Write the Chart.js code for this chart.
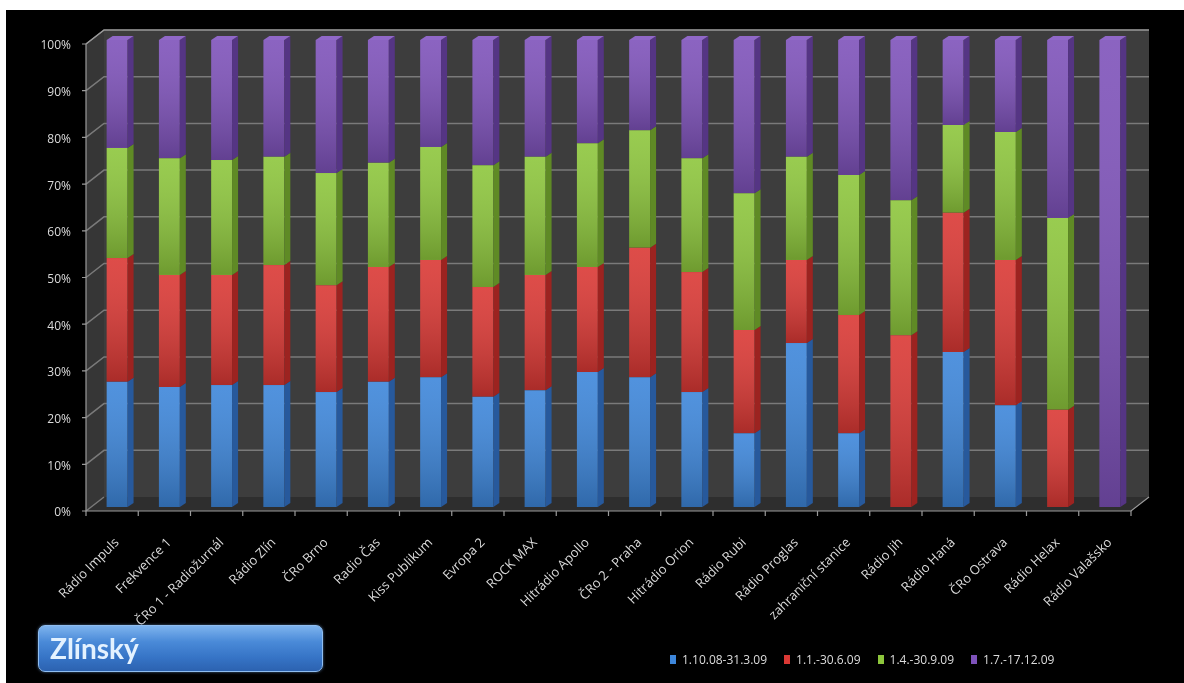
<!DOCTYPE html>
<html>
<head>
<meta charset="utf-8">
<script src="https://cdn.jsdelivr.net/npm/chart.js@4.4.1/dist/chart.umd.min.js"></script>
<style>
html, body { margin: 0; background: #fff; }
#wrap { position: absolute; left: 6px; top: 10px; width: 1178px; height: 673px; background: #000; overflow: hidden; }
#wrap canvas { position: absolute; left: 0; top: 0; }
#title {
    position: absolute; left: 32px; top: 615px; width: 285px; height: 47px;
    border-radius: 7px; border: 1px solid #8fbdf0; box-sizing: border-box;
    background: linear-gradient(to bottom, #7db3ee 0%, #4a8ad8 35%, #3674c6 70%, #2c62b0 100%);
    box-shadow: 0 0 3px rgba(120,170,230,0.6);
    font: bold 28px Lato, "Open Sans", sans-serif; color: #e4f2ff;
    padding-left: 11px; line-height: 44px;
}
#legend { position: absolute; left: 664px; top: 641px; display: flex; gap: 17px; font: 12px "Open Sans", sans-serif; color: #dcdcdc; }
#legend .item { display: flex; align-items: center; }
#legend .box { width: 6px; height: 9px; margin-right: 6px; }
</style>
</head>
<body>
<div id="wrap">
    <canvas id="mainChart" width="1178" height="673"></canvas>
    <div id="title">Zlínský</div>
    <div id="legend"></div>
</div>
<script>
// 1. Данные
const stations = ['Rádio Impuls', 'Frekvence 1', 'ČRo 1 - Radiožurnál', 'Rádio Zlín', 'ČRo Brno', 'Radio Čas',
    'Kiss Publikum', 'Evropa 2', 'ROCK MAX', 'Hitrádio Apollo', 'ČRo 2 - Praha', 'Hitrádio Orion', 'Rádio Rubi',
    'Rádio Proglas', 'zahraniční stanice', 'Rádio Jih', 'Rádio Haná', 'ČRo Ostrava', 'Rádio Helax', 'Rádio Valašsko'];
const periods = ['1.10.08-31.3.09', '1.1.-30.6.09', '1.4.-30.9.09', '1.7.-17.12.09'];
const period1 = [26.8, 25.7, 26.1, 26.1, 24.6, 26.8, 27.8, 23.6, 25.0, 28.9, 27.8, 24.6, 15.8, 35.1, 15.8, 0, 33.2, 21.8, 0, 0];
const period2 = [26.5, 24.0, 23.6, 25.7, 22.9, 24.6, 25.1, 23.5, 24.7, 22.5, 27.7, 25.7, 22.1, 17.8, 25.3, 36.8, 29.8, 31.1, 20.8, 0];
const period3 = [23.6, 25.0, 24.6, 23.2, 24.0, 22.3, 24.2, 26.1, 25.3, 26.5, 25.2, 24.4, 29.3, 22.1, 30.0, 28.9, 18.8, 27.4, 41.1, 0];
const period4 = [23.1, 25.3, 25.7, 25.0, 28.5, 26.3, 22.9, 26.8, 25.0, 22.1, 19.3, 25.3, 32.8, 25.0, 28.9, 34.3, 18.2, 19.7, 38.1, 100];

const frontColors = ['#3d86da', '#da3834', '#8dc63c', '#7e52ba'];
const sideColors = ['#27599c', '#9c2320', '#5f8a25', '#553584'];
const topColors = ['#5a9be2', '#e45a55', '#a3d55a', '#9068c8'];

// 2. Псевдо-3D рамка и грани столбцов
const FX = -5, FY = 4;     // передняя плоскость
const BX = 13, BY = -10;   // задняя стенка
const D = 6, DY = 4;       // глубина столбца

const frame3d = {
    id: 'frame3d',
    beforeDraw(chart) {
        const { ctx, chartArea: a, scales: { y } } = chart;
        const yT = y.getPixelForValue(100), yB = y.getPixelForValue(0);
        ctx.save();
        // левая стенка
        ctx.fillStyle = '#363636';
        ctx.beginPath();
        ctx.moveTo(a.left + FX, yT + FY); ctx.lineTo(a.left + BX, yT + BY);
        ctx.lineTo(a.left + BX, yB + BY); ctx.lineTo(a.left + FX, yB + FY);
        ctx.closePath(); ctx.fill();
        // задняя стенка
        ctx.fillStyle = '#3d3d3d';
        ctx.fillRect(a.left + BX, yT + BY, a.right - a.left, yB - yT);
        // пол
        ctx.fillStyle = '#2e2e2e';
        ctx.beginPath();
        ctx.moveTo(a.left + FX, yB + FY); ctx.lineTo(a.right + FX, yB + FY);
        ctx.lineTo(a.right + BX, yB + BY); ctx.lineTo(a.left + BX, yB + BY);
        ctx.closePath(); ctx.fill();
        // сетка
        ctx.strokeStyle = '#7a7a7a'; ctx.lineWidth = 1.5;
        for (let v = 0; v <= 100; v += 10) {
            const py = y.getPixelForValue(v);
            ctx.beginPath();
            ctx.moveTo(a.left + FX, py + FY); ctx.lineTo(a.left + BX, py + BY);
            if (v > 0) ctx.lineTo(a.right + BX, py + BY);
            ctx.stroke();
        }
        ctx.restore();
    },
    afterDatasetsDraw(chart) {
        const { ctx, chartArea: a, scales: { y } } = chart;
        ctx.save();
        chart.data.datasets.forEach((ds, i) => {
            const meta = chart.getDatasetMeta(i);
            meta.data.forEach((el, j) => {
                if (!ds.data[j]) return;
                const p = el.getProps(['x', 'y', 'base', 'width'], true);
                const l = p.x - p.width / 2, r = p.x + p.width / 2;
                const top = Math.min(p.y, p.base), bot = Math.max(p.y, p.base);
                // блик на лицевой грани
                const g = ctx.createLinearGradient(0, top, 0, bot);
                g.addColorStop(0, 'rgba(255,255,255,0.10)');
                g.addColorStop(1, 'rgba(0,0,0,0.22)');
                ctx.fillStyle = g;
                ctx.fillRect(l, top, p.width, bot - top);
                // боковая грань
                ctx.fillStyle = sideColors[i];
                ctx.beginPath();
                ctx.moveTo(r, top); ctx.lineTo(r + D, top - DY);
                ctx.lineTo(r + D, bot - DY); ctx.lineTo(r, bot);
                ctx.closePath(); ctx.fill();
                // верхняя грань только у верхнего сегмента
                const isTop = chart.data.datasets.slice(i + 1).every(d => !d.data[j]);
                if (isTop) {
                    ctx.fillStyle = topColors[i];
                    ctx.beginPath();
                    ctx.moveTo(l, top); ctx.lineTo(l + D, top - DY);
                    ctx.lineTo(r + D, top - DY); ctx.lineTo(r, top);
                    ctx.closePath(); ctx.fill();
                }
            });
        });
        // передние оси
        const yT = y.getPixelForValue(100), yB = y.getPixelForValue(0);
        ctx.strokeStyle = '#9a9a9a'; ctx.lineWidth = 1.2;
        ctx.beginPath();
        ctx.moveTo(a.left + FX, yT + FY); ctx.lineTo(a.left + FX, yB + FY);
        ctx.lineTo(a.right + FX, yB + FY); ctx.lineTo(a.right + BX, yB + BY);
        ctx.moveTo(a.left + FX, yT + FY); ctx.lineTo(a.left + BX, yT + BY);
        ctx.lineTo(a.right + BX, yT + BY);
        ctx.stroke();
        const n = stations.length, step = (a.right - a.left) / n;
        ctx.beginPath();
        for (let k = 0; k <= n; k++) {
            const px = a.left + k * step + FX;
            ctx.moveTo(px, yB + FY); ctx.lineTo(px, yB + FY + 5);
        }
        for (let v = 0; v <= 100; v += 10) {
            const py = y.getPixelForValue(v) + FY;
            ctx.moveTo(a.left + FX, py); ctx.lineTo(a.left + FX - 4, py);
        }
        ctx.stroke();
        ctx.restore();
    }
};

// 3. График
const seriesValues = [period1, period2, period3, period4];
const ctx = document.getElementById('mainChart').getContext('2d');
new Chart(ctx, {
    type: 'bar',
    data: {
        labels: stations,
        datasets: seriesValues.map((vals, i) => ({
            label: periods[i], data: vals, backgroundColor: frontColors[i],
            borderWidth: 0, barPercentage: 0.4, categoryPercentage: 1
        }))
    },
    options: {
        responsive: false, animation: false,
        layout: { padding: { top: 30, right: 48, left: 0, bottom: 0 } },
        plugins: { legend: { display: false }, tooltip: { enabled: false } },
        scales: {
            x: {
                stacked: true,
                grid: { display: false }, border: { display: false },
                ticks: { color: '#dadada', font: { family: 'Open Sans', size: 13 }, minRotation: 45, maxRotation: 45, autoSkip: false, padding: 20 },
                afterFit(scale) { scale.height = 176; }
            },
            y: {
                stacked: true, min: 0, max: 100,
                grid: { display: false }, border: { display: false },
                ticks: { stepSize: 10, color: '#dadada', font: { family: 'Open Sans', size: 12 }, padding: 12, labelOffset: 6, callback: v => v + '%' },
                afterFit(scale) { scale.width = 85; }
            }
        }
    },
    plugins: [frame3d]
});

// 4. Легенда
document.getElementById('legend').innerHTML = periods.map((p, i) => `
    <div class="item"><span class="box" style="background:${frontColors[i]}"></span>${p}</div>
`).join('');
</script>
</body>
</html>
